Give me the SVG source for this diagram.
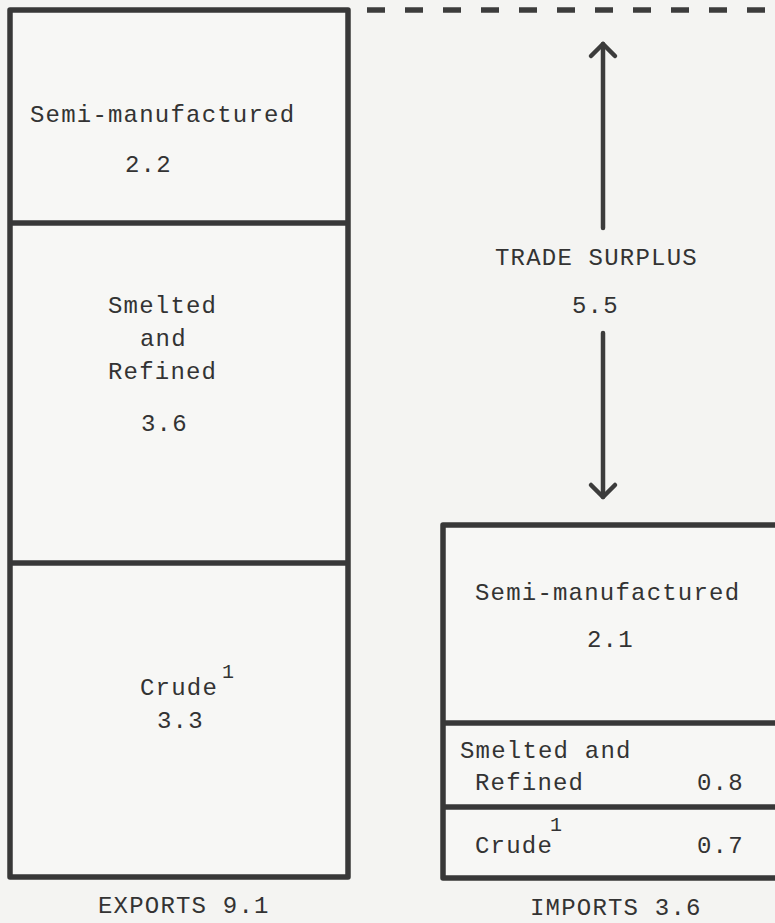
<svg xmlns="http://www.w3.org/2000/svg" width="775" height="923" viewBox="0 0 775 923">
<defs>
<style>
.bg{fill:#f4f4f2}
.box{fill:#f7f7f5;stroke:#383838;stroke-width:5.5;stroke-linejoin:round}
.div{stroke:#383838;stroke-width:5.5;fill:none}
.t{font-family:"Liberation Mono","Courier New",monospace;font-size:24px;letter-spacing:1.2px;fill:#333333}
.sup{font-family:"Liberation Mono","Courier New",monospace;font-size:20px;fill:#333333}
.arr{stroke:#3c3c3c;stroke-width:4.5;fill:none;stroke-linecap:round}
.dash{stroke:#3c3c3c;stroke-width:5.5;fill:none;stroke-dasharray:18 20;stroke-linecap:butt}
</style>
<marker id="head" viewBox="-16 -16 32 32" markerWidth="32" markerHeight="32" markerUnits="userSpaceOnUse" refX="0" refY="0" orient="auto-start-reverse">
<path d="M -12 -12 L 0 0 L -12 12" fill="none" stroke="#3c3c3c" stroke-width="4.5" stroke-linecap="round" stroke-linejoin="round"/>
</marker>
</defs>
<rect class="bg" x="0" y="0" width="775" height="923"/>

<g id="exports">
<rect class="box" x="10" y="10" width="338" height="867"/>
<line class="div" x1="10" y1="223" x2="348" y2="223"/>
<line class="div" x1="10" y1="563" x2="348" y2="563"/>
</g>
<g id="exp-semi">
<text class="t" x="30" y="122">Semi-manufactured</text>
<text class="t" x="125" y="172">2.2</text>
</g>
<g id="exp-smelted">
<text class="t" x="108" y="313">Smelted</text>
<text class="t" x="140" y="346">and</text>
<text class="t" x="108" y="379">Refined</text>
<text class="t" x="141" y="431">3.6</text>
</g>
<g id="exp-crude">
<text class="t" x="140" y="695">Crude</text>
<text class="sup" x="222" y="678">1</text>
<text class="t" x="157" y="728">3.3</text>
</g>
<g id="exp-label">
<text class="t" x="98" y="913">EXPORTS 9.1</text>
</g>

<g id="imports">
<rect class="box" x="443" y="525" width="345" height="353"/>
<line class="div" x1="443" y1="723" x2="780" y2="723"/>
<line class="div" x1="443" y1="807" x2="780" y2="807"/>
</g>
<g id="imp-semi">
<text class="t" x="475" y="600">Semi-manufactured</text>
<text class="t" x="587" y="647">2.1</text>
</g>
<g id="imp-smelted">
<text class="t" x="460" y="758">Smelted and</text>
<text class="t" x="475" y="790">Refined</text>
<text class="t" x="697" y="790">0.8</text>
</g>
<g id="imp-crude">
<text class="t" x="475" y="853">Crude</text>
<text class="sup" x="550" y="831">1</text>
<text class="t" x="697" y="853">0.7</text>
</g>
<g id="imp-label">
<text class="t" x="530" y="915">IMPORTS 3.6</text>
</g>

<g id="surplus">
<text class="t" x="495" y="265">TRADE SURPLUS</text>
<text class="t" x="572" y="313">5.5</text>
</g>

<g id="connectors">
<line class="dash" x1="367" y1="10" x2="775" y2="10"/>
<line class="arr" x1="603" y1="228" x2="603" y2="44" marker-end="url(#head)"/>
<line class="arr" x1="603" y1="333" x2="603" y2="497" marker-end="url(#head)"/>
</g>
</svg>
